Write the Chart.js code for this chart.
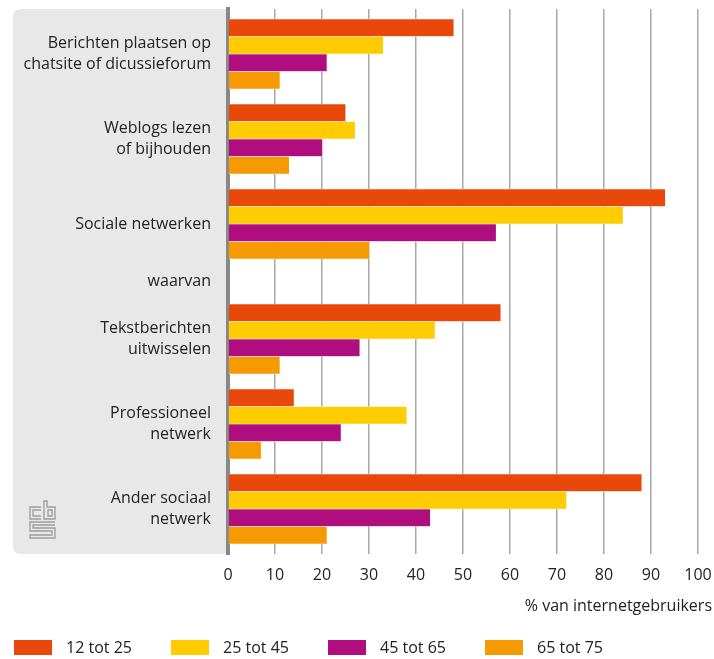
<!DOCTYPE html>
<html lang="nl">
<head>
<meta charset="UTF-8">
<title>Sociale media naar leeftijd</title>
<script src="https://cdn.jsdelivr.net/npm/chart.js"></script>
<style>
  body { margin: 0; background: #fff; }
  .wrap { position: relative; width: 714px; height: 659px; }
</style>
</head>
<body>
<div class="wrap"><canvas id="chart"></canvas></div>
<script>
// categorieen (van boven naar beneden)
const categories = [
    ['Berichten plaatsen op', 'chatsite of dicussieforum'],
    ['Weblogs lezen', 'of bijhouden'],
    'Sociale netwerken',
    'waarvan',
    ['Tekstberichten', 'uitwisselen'],
    ['Professioneel', 'netwerk'],
    ['Ander sociaal', 'netwerk']
];
const seriesNames = ['12 tot 25', '25 tot 45', '45 tot 65', '65 tot 75'];
const age12to25 = [48, 25, 93, null, 58, 14, 88];
const age25to45 = [33, 27, 84, null, 44, 38, 72];
const age45to65 = [21, 20, 57, null, 28, 24, 43];
const age65to75 = [11, 13, 30, null, 11, 7, 21];
const xTicks = [0, 10, 20, 30, 40, 50, 60, 70, 80, 90, 100];
const axisTitle = '% van internetgebruikers';

// rijhoogtes (relatief): de tussenkop "waarvan" is smaller
const rowWeights = [85, 85, 85, 30, 85, 85, 85];
const edgePad = 2.5;

const colors = ['#e9480b', '#ffcc00', '#b00d7e', '#f59a00'];
const FONT = '"Open Sans", Lato, sans-serif';

// categorie-as met ongelijke rijhoogtes
class WeightedCategoryScale extends Chart.CategoryScale {
    static id = 'weightedCategory';
    static defaults = Chart.CategoryScale.defaults;
    getPixelForValue(value) {
        if (typeof value !== 'number') value = this.parse(value);
        if (value === null || isNaN(value)) return NaN;
        const n = rowWeights.length;
        const i = Math.max(0, Math.min(n - 1, Math.round(value)));
        const f = value - i;
        const total = rowWeights.reduce((a, b) => a + b, 0) + 2 * edgePad;
        let cum = edgePad;
        for (let k = 0; k < i; k++) cum += rowWeights[k];
        return this.getPixelForDecimal((cum + rowWeights[i] * (0.5 + f)) / total);
    }
}
Chart.register(WeightedCategoryScale);

// grijs paneel achter de labels + logo
const panelPlugin = {
    id: 'panel',
    beforeDraw(chart) {
        const ctx = chart.ctx;
        const a = chart.chartArea;
        const x0 = 13, r = 8;
        ctx.save();
        ctx.fillStyle = '#e8e8e8';
        ctx.beginPath();
        ctx.moveTo(a.left, a.top);
        ctx.lineTo(x0 + r, a.top);
        ctx.quadraticCurveTo(x0, a.top, x0, a.top + r);
        ctx.lineTo(x0, a.bottom - r);
        ctx.quadraticCurveTo(x0, a.bottom, x0 + r, a.bottom);
        ctx.lineTo(a.left, a.bottom);
        ctx.closePath();
        ctx.fill();

        // cbs logo (ruw)
        ctx.strokeStyle = '#9c9c9c';
        ctx.lineWidth = 1.3;
        ctx.beginPath();
        // c
        ctx.moveTo(41, 507); ctx.lineTo(30, 507); ctx.lineTo(30, 519); ctx.lineTo(41, 519);
        ctx.moveTo(41, 510); ctx.lineTo(33, 510); ctx.lineTo(33, 516); ctx.lineTo(41, 516);
        // b
        ctx.moveTo(44, 501); ctx.lineTo(44, 519); ctx.lineTo(55, 519); ctx.lineTo(55, 507); ctx.lineTo(47, 507); ctx.lineTo(47, 501); ctx.closePath();
        ctx.rect(48, 510, 4, 6);
        // s
        ctx.moveTo(55, 522); ctx.lineTo(30, 522); ctx.lineTo(30, 531); ctx.lineTo(52, 531); ctx.lineTo(52, 535); ctx.lineTo(30, 535); ctx.lineTo(30, 538); ctx.lineTo(55, 538); ctx.lineTo(55, 528); ctx.lineTo(33, 528); ctx.lineTo(33, 525); ctx.lineTo(55, 525);
        ctx.stroke();
        ctx.restore();
    },
    afterDraw(chart) {
        const ctx = chart.ctx;
        ctx.save();
        ctx.font = '16px ' + FONT;
        ctx.fillStyle = '#222';
        // astitel
        ctx.textAlign = 'right';
        ctx.textBaseline = 'middle';
        ctx.fillText(axisTitle, 712, 606);
        // legenda
        ctx.textAlign = 'left';
        chart.data.datasets.forEach((ds, i) => {
            const x = 14 + i * 157;
            ctx.fillStyle = ds.backgroundColor;
            ctx.fillRect(x, 640, 38, 15);
            ctx.fillStyle = '#222';
            ctx.fillText(ds.label, x + 52, 648);
        });
        ctx.restore();
    }
};

const series = [age12to25, age25to45, age45to65, age65to75];

new Chart(document.getElementById('chart'), {
    type: 'bar',
    data: {
        labels: categories,
        datasets: series.map((d, i) => ({
            label: seriesNames[i],
            data: d,
            backgroundColor: colors[i],
            borderColor: '#ffffff',
            borderWidth: { top: 0.6, bottom: 0.6, left: 0, right: 0 },
            barThickness: 17.5
        }))
    },
    options: {
        indexAxis: 'y',
        responsive: true,
        maintainAspectRatio: false,
        animation: false,
        layout: { padding: { top: 9, right: 16, left: 0, bottom: 30 } },
        scales: {
            x: {
                min: 0,
                max: 100,
                afterBuildTicks(scale) { scale.ticks = xTicks.map(v => ({ value: v })); },
                afterFit(scale) {
                    scale.height = 75;
                    scale.paddingLeft = 0;
                    scale.paddingRight = 0;
                },
                grid: { color: '#a8a8a8', lineWidth: 1.5, drawTicks: false },
                border: { display: false },
                ticks: { color: '#222', font: { family: FONT, size: 16 }, padding: 12 }
            },
            y: {
                type: 'weightedCategory',
                afterFit(scale) {
                    scale.width = 228;
                    scale.paddingTop = 0;
                    scale.paddingBottom = 0;
                },
                grid: { display: false, drawTicks: false },
                border: { display: true, color: '#888', width: 4 },
                ticks: { color: '#222', font: { family: FONT, size: 16, lineHeight: 1.3 }, padding: 17 }
            }
        },
        plugins: {
            legend: { display: false },
            tooltip: { enabled: true }
        }
    },
    plugins: [panelPlugin]
});
</script>
</body>
</html>
